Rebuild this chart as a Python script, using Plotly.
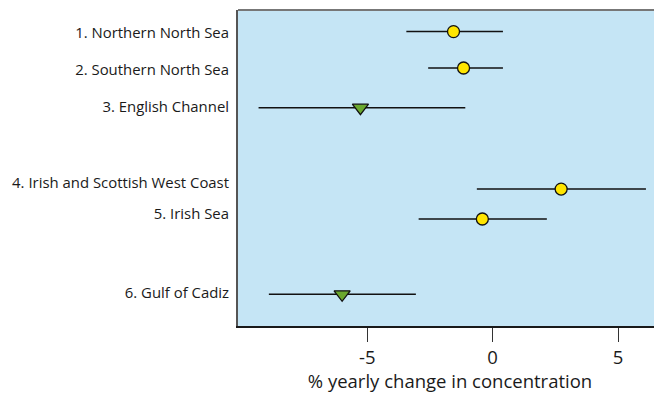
import plotly.graph_objects as go

regions = ["1. Northern North Sea", "2. Southern North Sea", "3. English Channel",
           "4. Irish and Scottish West Coast", "5. Irish Sea", "6. Gulf of Cadiz"]
row_pos = [1.0, 2.01, 3.11, 5.37, 6.2, 8.29]
label_pos = [1.04, 2.05, 3.09, 5.19, 6.06, 8.26]
trend = [-1.56, -1.16, -5.27, 2.73, -0.41, -6.0]
ci_low = [-3.44, -2.57, -9.33, -0.63, -2.95, -8.92]
ci_high = [0.41, 0.41, -1.09, 6.11, 2.16, -3.06]
decreasing = [False, False, True, False, False, True]

tick_vals = [-5, 0, 5]

fig = go.Figure()

for is_down, sym, col, sz in [(False, "circle", "#ffe500", 12), (True, "triangle-down", "#6aa82e", 14)]:
    idx = [i for i in range(len(regions)) if decreasing[i] == is_down]
    fig.add_trace(go.Scatter(
        x=[trend[i] for i in idx],
        y=[row_pos[i] for i in idx],
        mode="markers",
        marker=dict(symbol=sym, size=sz, color=col, line=dict(color="#111111", width=1.3)),
        error_x=dict(type="data", symmetric=False,
                     array=[ci_high[i] - trend[i] for i in idx],
                     arrayminus=[trend[i] - ci_low[i] for i in idx],
                     color="#111111", thickness=1.5, width=0),
        showlegend=False,
    ))

fig.update_layout(
    width=654, height=385,
    margin=dict(l=230, r=0, t=2, b=67),
    paper_bgcolor="white",
    plot_bgcolor="#c5e5f5",
    font=dict(family="Open Sans, sans-serif", color="#1a1a1a"),
    xaxis=dict(range=[-10.15, 6.75], tickvals=tick_vals, ticktext=[str(v) for v in tick_vals],
               showgrid=False, zeroline=False, showline=True, linecolor="#1a1a1a", linewidth=1.5,
               ticks="outside", ticklen=14, tickcolor="#333333", tickwidth=1,
               tickfont=dict(size=18.5), automargin=False,
               title=dict(text="% yearly change in concentration", font=dict(size=18.5), standoff=2)),
    yaxis=dict(range=[9.17, 0.4], tickvals=label_pos, ticktext=regions,
               showgrid=False, zeroline=False, showline=True, linecolor="#555555", linewidth=2,
               ticks="", tickfont=dict(size=14.9), ticklabelstandoff=4, automargin=False),
    shapes=[dict(type="line", xref="paper", yref="paper", x0=0, x1=1, y0=1, y1=1,
                 line=dict(color="#777777", width=2))],
)

fig.write_html("out.html")
